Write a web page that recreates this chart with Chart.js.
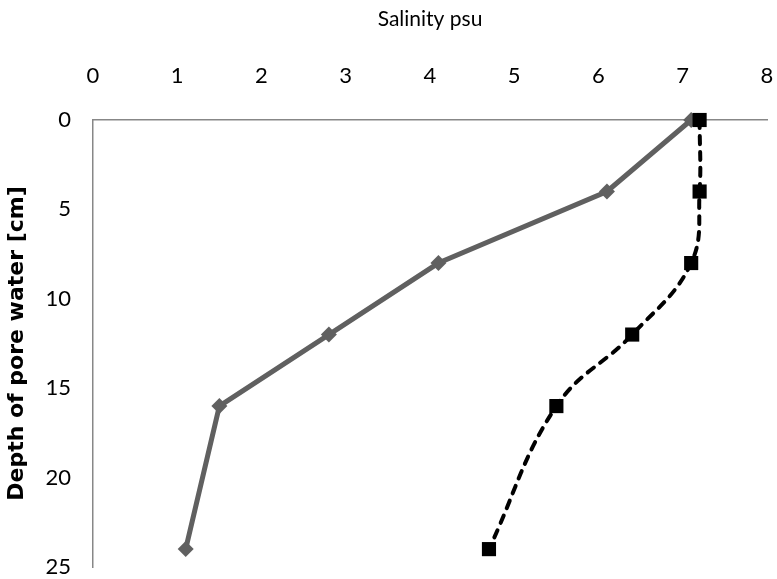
<!DOCTYPE html>
<html>
<head>
<meta charset="utf-8">
<script src="https://cdn.jsdelivr.net/npm/chart.js@4/dist/chart.umd.min.js"></script>
<style>
  html, body { margin: 0; padding: 0; background: #ffffff; }
  #wrap { width: 777px; height: 579px; }
</style>
</head>
<body>
<div id="wrap"><canvas id="c" width="777" height="579"></canvas></div>
<script>
// Sampling depths below the sediment surface (cm)
const depthsA = [0, 4, 8, 12, 16, 24];
const depthsB = [0, 4, 8, 12, 16, 24];
// Pore-water salinity (psu) at each depth, two profiles
const salinityA = [7.1, 6.1, 4.1, 2.8, 1.5, 1.1];
const salinityB = [7.2, 7.2, 7.1, 6.4, 5.5, 4.7];
// Axis ranges and tick steps
const salinityTicks = [0, 1, 2, 3, 4, 5, 6, 7, 8];
const depthTicks = [0, 5, 10, 15, 20, 25];

const toPoints = (xs, ys) => xs.map((x, i) => ({ x: x, y: ys[i] }));

const axisGray = '#878787';
const labelFamily = "Lato, 'Liberation Sans', Arial, sans-serif";
const tickFont = { family: labelFamily, size: 22 };

new Chart(document.getElementById('c'), {
  type: 'line',
  data: {
    datasets: [
      {
        label: 'Profile B',
        data: toPoints(salinityB, depthsB),
        borderColor: '#000000',
        backgroundColor: '#000000',
        borderWidth: 4,
        borderDash: [8, 8],
        borderCapStyle: 'round',
        tension: 0.4,
        pointStyle: 'rect',
        pointRadius: 10,
        pointHoverRadius: 10,
        pointBorderWidth: 0,
        clip: false
      },
      {
        label: 'Profile A',
        data: toPoints(salinityA, depthsA),
        borderColor: '#606060',
        backgroundColor: '#606060',
        borderWidth: 5,
        tension: 0,
        pointStyle: 'rectRot',
        pointRadius: 8,
        pointHoverRadius: 8,
        pointBorderWidth: 0,
        clip: false
      }
    ]
  },
  options: {
    responsive: false,
    devicePixelRatio: 1,
    animation: false,
    layout: { padding: { left: 0, right: 9, top: 0, bottom: 12 } },
    plugins: {
      legend: { display: false },
      tooltip: { enabled: false }
    },
    scales: {
      x: {
        type: 'linear',
        position: 'top',
        min: salinityTicks[0],
        max: salinityTicks[salinityTicks.length - 1],
        afterBuildTicks: (s) => { s.ticks = salinityTicks.map(v => ({ value: v })); },
        grid: { display: false, drawTicks: false },
        border: { display: true, color: axisGray, width: 1.5 },
        ticks: { color: '#000000', font: tickFont, padding: 31, maxRotation: 0 },
        title: {
          display: true,
          text: 'Salinity psu',
          color: '#000000',
          font: { family: labelFamily, size: 21 },
          padding: { top: 7, bottom: 0 }
        },
        afterFit: (s) => {
          s.height = 120;
          s.paddingLeft = 0;
          s.paddingRight = 0;
        }
      },
      y: {
        type: 'linear',
        reverse: true,
        min: depthTicks[0],
        max: depthTicks[depthTicks.length - 1],
        afterBuildTicks: (s) => { s.ticks = depthTicks.map(v => ({ value: v })); },
        grid: { display: false, drawTicks: false },
        border: { display: true, color: axisGray, width: 1.5 },
        ticks: { color: '#000000', font: tickFont, padding: 22 },
        title: {
          display: true,
          text: 'Depth of pore water [cm]',
          color: '#000000',
          font: { family: "'DejaVu Sans', Verdana, sans-serif", size: 22, weight: 'bold' },
          padding: { top: 4, bottom: 0 }
        },
        afterFit: (s) => {
          s.width = 93;
          s.paddingTop = 0;
          s.paddingBottom = 0;
        }
      }
    }
  }
});
</script>
</body>
</html>
